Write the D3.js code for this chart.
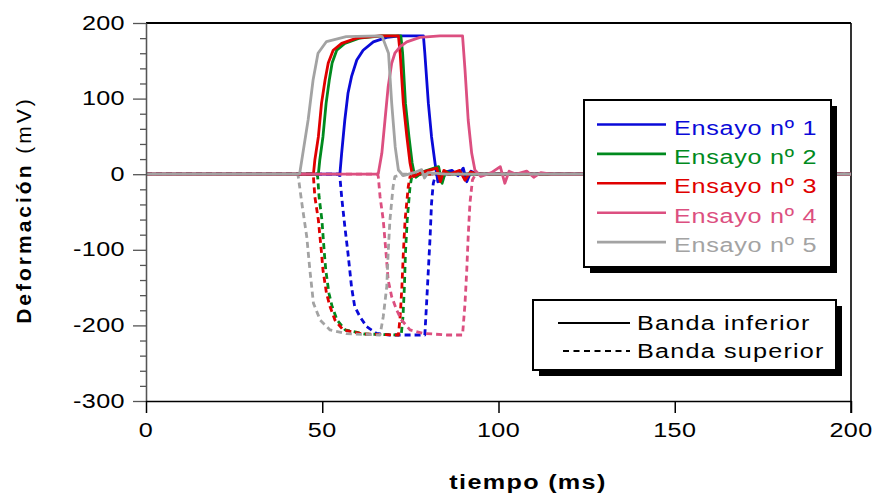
<!DOCTYPE html>
<html lang="es">
<head>
<meta charset="UTF-8">
<title>Deformación vs tiempo</title>
<script src="https://d3js.org/d3.v7.min.js"></script>
<style>
    body { margin: 0; background: #fff; }
    svg { display: block; font-family: "Liberation Sans", Arial, sans-serif; }
    .lbl { font-size: 21px; fill: #000; }
    .trace { fill: none; stroke-width: 2.8; stroke-linejoin: round; }
    .superior { stroke-dasharray: 6 4; }
    .legend-text { font-size: 21px; }
    .axis-title { font-size: 21px; font-weight: bold; }
</style>
</head>
<body>
<div id="chart"></div>
<script>
// ensayos y colores
const ensayos = ["Ensayo nº 1", "Ensayo nº 2", "Ensayo nº 3", "Ensayo nº 4", "Ensayo nº 5"];
const colores = ["#0a0ad8", "#008a1e", "#e00000", "#dc4f80", "#a3a3a3"];
const bandas = ["Banda inferior", "Banda superior"];

const xTicks = [0, 50, 100, 150, 200];
const yTicks = [200, 100, 0, -100, -200, -300];

// [tiempo (ms), deformación (mV)]
const ensayo1Inferior = [[0,0],[55,0],[55.5,27.6],[56.4,71.7],[57.3,107],[58.3,129],[59.8,151],[61.6,164],[64.5,175],[68.3,181],[72.1,183],[78.7,183],[79.1,160],[80.1,94],[81,49.6],[82,14.4],[82.8,-10],[84,-8],[85.1,3],[86.8,5],[88.5,-2],[90,8],[91,-10],[92.2,4],[94,0],[200,0]];
const ensayo1Superior = [[0,0],[54.8,0],[55,-3.3],[55.5,-29.8],[56.4,-69],[57.3,-104.6],[57.8,-126.7],[58.3,-148.8],[59.2,-175],[60.7,-188.5],[62.6,-201.7],[65.4,-210.5],[69.2,-212.7],[79.1,-212.7],[79.6,-170.8],[80.1,-126.7],[80.6,-82.7],[81,-38.5],[81.5,-12],[82,-3.3],[85,0],[200,0]];

const ensayo2Inferior = [[0,0],[48.9,0],[49.3,18.8],[50.2,49.6],[51.1,94],[52,124.6],[52.8,147],[54.1,164],[56.4,173],[60.5,180],[67,183],[72.3,183],[72.8,160],[73.6,94],[74.6,49.6],[75.5,14.8],[76,3.3],[76.6,-4],[78.5,3],[83,10],[84,-12],[85,4],[87,0],[200,0]];
const ensayo2Superior = [[0,0],[48.4,0],[48.7,-3.3],[49.1,-29.8],[49.9,-60.6],[50.6,-104.6],[51,-126.7],[51.9,-157.5],[52.8,-175],[54.2,-192.9],[56.5,-206],[62,-211.4],[72.4,-212.7],[72.9,-188.5],[73.3,-148.8],[73.6,-104.6],[74.1,-60.6],[74.9,-16.5],[75.4,-3.3],[78,0],[200,0]];

const ensayo3Inferior = [[0,0],[47.5,0],[47.9,18.8],[48.9,49.6],[49.8,94],[50.8,124.6],[51.7,147],[53.1,164],[55.5,173],[59.8,180],[66.4,183],[71.6,183],[72.1,160],[73,94],[74,49.6],[74.9,14.8],[75.4,3.3],[76,-3],[78,2],[82.5,8],[83.5,-10],[84.5,5],[86,0],[89,5],[90.5,-8],[92,3],[94,0],[200,0]];
const ensayo3Superior = [[0,0],[47.3,0],[47.5,-3.3],[47.9,-29.8],[48.9,-60.6],[49.8,-104.6],[50.2,-126.7],[51.2,-157.5],[52.2,-175],[53.6,-192.9],[55.9,-206],[61.6,-211.4],[71.6,-212.7],[72.1,-188.5],[72.6,-148.8],[73,-104.6],[73.5,-60.6],[74.4,-16.5],[74.9,-3.3],[77,0],[200,0]];

const ensayo4Inferior = [[0,0],[65.7,0],[65.9,1],[66.9,27.6],[67.8,71.7],[68.7,115.7],[69.7,146.7],[70.6,160],[72.1,168.7],[74,175],[77.7,181],[83.4,183],[89.8,183],[90.5,138],[91.4,71.7],[92.4,27.6],[93.3,5.5],[95,-3],[98,2],[100.5,10],[101.8,-12],[103,4],[105,0],[108,4],[110,-4],[112,2],[115,0],[200,0]];
const ensayo4Superior = [[0,0],[65.7,0],[65.9,-3.3],[66.4,-29.8],[67.3,-60.6],[68.1,-104.6],[68.7,-140],[69.7,-162],[71.1,-179.6],[72.5,-192.9],[74.9,-206],[78.6,-210.5],[85.3,-212.7],[89.8,-212.7],[90.5,-170.8],[91,-126.7],[91.4,-82.7],[91.9,-38.5],[92.6,-7.7],[93.5,0],[200,0]];

const ensayo5Inferior = [[0,0],[43,0],[43.6,1],[46,72],[47.4,124.6],[48.8,160],[51.2,175.5],[56.8,182],[66,183],[67,182],[68.8,160],[69.7,94],[70.7,36],[71.6,5.5],[73,-2],[76,2],[78.2,6],[79,-5],[80,2],[85,0],[200,0]];
const ensayo5Superior = [[0,0],[43,0],[43.2,-3.3],[44.2,-38],[45.6,-82.7],[46.5,-127],[47.5,-170.6],[49.4,-193],[52.2,-206],[56.9,-211],[66.4,-212.7],[67.3,-188.5],[68.3,-148.8],[68.7,-104],[69.2,-60.6],[70.1,-16.5],[70.6,-3.3],[73,0],[200,0]];

const trazos = [
    [ensayo1Inferior, ensayo1Superior],
    [ensayo2Inferior, ensayo2Superior],
    [ensayo3Inferior, ensayo3Superior],
    [ensayo4Inferior, ensayo4Superior],
    [ensayo5Inferior, ensayo5Superior]
];

const W = 876, H = 495;
const plot = { left: 146, right: 851, top: 23, bottom: 401 };
const SX = 1.2; // texto algo ensanchado

const svg = d3.select("#chart").append("svg")
    .attr("width", W)
    .attr("height", H);

const x = d3.scaleLinear().domain([0, 200]).range([plot.left, plot.right]);
const y = d3.scaleLinear().domain([-300, 200]).range([plot.bottom, plot.top]);

// texto ensanchado horizontalmente
function texto(parent, px, py, str, cls, anchor) {
    return parent.append("text")
        .attr("class", cls)
        .attr("transform", `translate(${px},${py}) scale(${SX},1)`)
        .attr("text-anchor", anchor || "start")
        .text(str);
}

// marco superior y derecho
svg.append("line")
    .attr("x1", plot.left).attr("x2", plot.right)
    .attr("y1", plot.top).attr("y2", plot.top)
    .attr("stroke", "#000").attr("stroke-width", 1.8);
svg.append("line")
    .attr("x1", plot.right).attr("x2", plot.right)
    .attr("y1", plot.top).attr("y2", plot.bottom + 12)
    .attr("stroke", "#000").attr("stroke-width", 1.6);

// curvas: banda superior (discontinua) y banda inferior (continua)
const line = d3.line()
    .x(d => x(d[0]))
    .y(d => y(d[1]));

trazos.forEach((par, i) => {
    svg.append("path")
        .datum(par[1])
        .attr("class", "trace superior")
        .attr("stroke", colores[i])
        .attr("d", line);
});
trazos.forEach((par, i) => {
    svg.append("path")
        .datum(par[0])
        .attr("class", "trace inferior")
        .attr("stroke", colores[i])
        .attr("d", line);
});

// eje Y con subdivisiones
const minorY = d3.range(-300, 201, 20).filter(v => !yTicks.includes(v));
svg.append("g")
    .attr("transform", `translate(${plot.left},0)`)
    .call(d3.axisLeft(y).tickValues(minorY).tickSize(6).tickSizeOuter(0).tickFormat(""))
    .call(g => g.selectAll("line, path").attr("stroke", "#555").attr("stroke-width", 1.3));

const yAxis = svg.append("g")
    .attr("transform", `translate(${plot.left},0)`)
    .call(d3.axisLeft(y).tickValues(yTicks).tickSize(13).tickSizeOuter(0).tickFormat(""));
yAxis.selectAll("line, path").attr("stroke", "#555").attr("stroke-width", 1.3);
yTicks.forEach(v => {
    texto(svg, plot.left - 21, y(v) + 6.5, v, "lbl", "end")
        .style("letter-spacing", "0.3px");
});

const xAxis = svg.append("g")
    .attr("transform", `translate(0,${plot.bottom})`)
    .call(d3.axisBottom(x).tickValues(xTicks).tickSize(12).tickSizeOuter(0).tickFormat(""));
xAxis.selectAll("line, path").attr("stroke", "#000").attr("stroke-width", 1.5);
xTicks.forEach(v => {
    texto(svg, x(v), plot.bottom + 36, v, "lbl", "middle")
        .style("letter-spacing", "0.3px");
});

// títulos de ejes
texto(svg, 528, 489, "tiempo (ms)", "axis-title", "middle")
    .style("letter-spacing", "1.1px");

const yTitle = svg.append("text")
    .attr("class", "axis-title")
    .attr("transform", "translate(31,210) rotate(-90)")
    .attr("text-anchor", "middle")
    .style("letter-spacing", "3px");
yTitle.append("tspan").text("Deformación ");
yTitle.append("tspan").attr("font-weight", "normal").text("(mV)");

// cajas de leyenda con sombra
function caja(x0, y0, w, h) {
    svg.append("rect")
        .attr("x", x0 + 6).attr("y", y0 + 6)
        .attr("width", w).attr("height", h)
        .attr("fill", "#000");
    svg.append("rect")
        .attr("x", x0).attr("y", y0)
        .attr("width", w).attr("height", h)
        .attr("fill", "#fff")
        .attr("stroke", "#000")
        .attr("stroke-width", 2);
}

// leyenda de ensayos
caja(584, 100, 247, 167);
const leg = svg.append("g");
ensayos.forEach((name, i) => {
    const ly = 124.5 + i * 29.4;
    leg.append("line")
        .attr("x1", 597).attr("x2", 666)
        .attr("y1", ly).attr("y2", ly)
        .attr("stroke", colores[i])
        .attr("stroke-width", 2.6);
    texto(leg, 674, ly + 10, name, "legend-text")
        .attr("fill", colores[i])
        .style("letter-spacing", "0.6px");
});

// leyenda de bandas
caja(533, 300, 303, 70);
bandas.forEach((name, i) => {
    const ly = 323 + i * 28;
    svg.append("line")
        .attr("x1", i === 0 ? 558 : 563).attr("x2", 630)
        .attr("y1", ly).attr("y2", ly)
        .attr("stroke", "#000")
        .attr("stroke-width", 2)
        .attr("stroke-dasharray", i === 0 ? null : "6 4.5");
    texto(svg, 637, ly + 7, name, "legend-text")
        .attr("fill", "#000")
        .style("letter-spacing", "1px");
});
</script>
</body>
</html>
